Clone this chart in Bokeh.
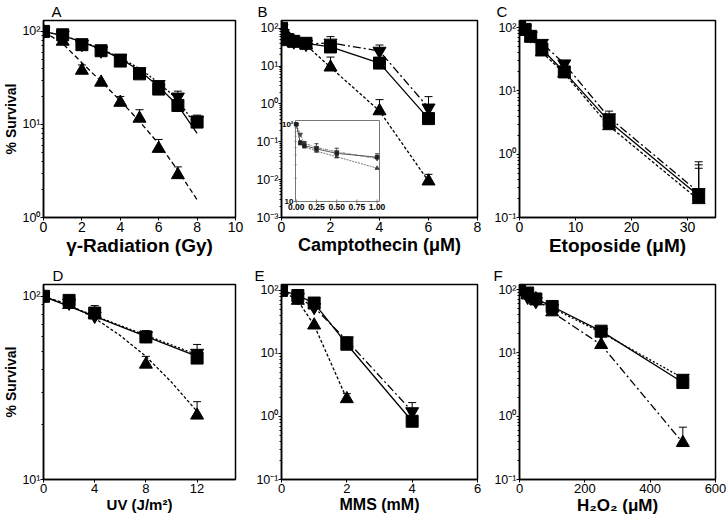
import json
import math
from bokeh.plotting import figure
from bokeh.models import (FixedTicker, GridBox, Range1d, CustomJSTickFormatter,
                          LinearScale, LogScale)
from bokeh.core.properties import value
from bokeh.embed import file_html
from bokeh.resources import INLINE

FONT = "Liberation Sans"
SUP = {"-3": "⁻³", "-2": "⁻²", "-1": "⁻¹", "0": "⁰", "1": "¹", "2": "²"}

# ---------------- Panel A : gamma radiation ----------------
a_x = [0, 1, 2, 3, 4, 5, 6, 7, 8]
a_sq = [100, 92, 72, 62, 48, 35, 24, 16, 10.6]
a_inv = [100, 92, 73, 62, 52, 37, 27, 19.8, 11.2]
a_tri_x = [0, 1, 2, 3, 4, 5, 6, 7]
a_tri = [100, 78, 38, 28.3, 17.2, 11.6, 5.5, 2.87]
a_fit_x = [0, 1, 2, 3, 4, 5, 6, 7, 8]
a_fit_sq = [100, 90, 77, 64, 51, 38, 25.5, 16, 8]
a_fit_inv = [100, 90, 78, 65, 52, 40, 28, 18.5, 9.2]
a_fit_tri = [100, 74, 46, 29, 18, 10.8, 6.2, 3.2, 1.55]
a_sq_ex, a_sq_et = [4], [56]
a_inv_ex, a_inv_et = [7, 8], [22.8, 12.6]
a_tri_ex, a_tri_et = [2, 4, 5, 6, 7], [43.6, 20, 14.4, 6.9, 3.5]

# ---------------- Panel B : camptothecin ----------------
b_x = [0, 0.05, 0.1, 0.25, 0.5, 1, 2, 4, 6]
b_sq = [100, 62, 55, 50, 45, 40, 32, 12, 0.41]
b_inv = [100, 74, 57, 50, 44, 38, 41, 25, 0.79]
b_tri = [100, 65, 58, 52, 45, 36, 9.3, 0.65, 0.0091]
b_sq_ex, b_sq_et = [2, 4], [42, 15.7]
b_inv_ex, b_inv_et = [2, 4, 6], [60, 36, 1.56]
b_tri_ex, b_tri_et = [2, 4, 6], [17.3, 1.3, 0.0138]
# inset of panel B
bi_x = [0, 0.05, 0.1, 0.25, 0.5, 1.0]
bi_sq = [100, 58, 53, 48, 42, 37.5]
bi_inv = [100, 74, 57, 50, 44, 36]
bi_tri = [100, 56, 51, 45, 38, 27]
bi_sq_ex, bi_sq_et = [0.1, 0.25, 0.5, 1.0], [60, 56, 49, 41.5]
bi_x_ticks = [0, 0.25, 0.5, 0.75, 1.0]
bi_x_labels = ["0.00", "0.25", "0.50", "0.75", "1.00"]
bi_y_ticks = [10, 100]
bi_y_labels = ["10", "10²"]
bi_y_minor = [20, 30, 40, 50, 60, 70, 80, 90]

# ---------------- Panel C : etoposide ----------------
c_x = [0, 1, 2, 4, 8, 16, 32]
c_sq = [105, 94, 73, 46, 20, 3.3, 0.22]
c_inv = [108, 96, 75, 57, 27, 3.8, 0.25]
c_tri = [105, 92, 70, 41, 19, 2.8, 0.19]
c_sq_ex, c_sq_et = [32], [0.6]
c_inv_ex, c_inv_et = [4, 8, 16, 32], [63, 30, 4.8, 0.76]
c_tri_ex, c_tri_et = [32], [0.68]

# ---------------- Panel D : UV ----------------
d_x = [0, 2, 4, 8, 12]
d_sq = [100, 95, 81, 60, 46]
d_inv = [100, 92, 78, 61, 49]
d_tri = [100, 90, 80, 42.5, 22.4]
d_fit_lin_x = [0, 12]
d_fit_sq = [100, 47]
d_fit_inv = [100, 48]
d_fit_tri_x = [0, 2, 4, 6, 8, 10, 12]
d_fit_tri = [100, 90, 76, 61, 47, 34, 23.5]
d_sq_ex, d_sq_et = [8], [64]
d_inv_ex, d_inv_et = [4, 8, 12], [89, 65, 54.6]
d_tri_ex, d_tri_et = [8, 12], [47, 26.6]

# ---------------- Panel E : MMS ----------------
e_x = [0, 0.5, 1, 2, 4]
e_sq = [100, 83, 63, 14, 0.84]
e_inv = [100, 78, 54, 16, 1.2]
e_tri_x = [0, 0.5, 1, 2]
e_tri = [100, 69, 28, 1.9]
e_sq_ex, e_sq_et = [2], [15.5]
e_inv_ex, e_inv_et = [2, 4], [18.2, 1.66]
e_tri_ex, e_tri_et = [2], [2.3]

# ---------------- Panel F : H2O2 ----------------
f_x = [0, 25, 50, 100, 250, 500]
f_sq = [100, 88, 71, 54, 22, 3.4]
f_inv = [100, 76, 65, 51, 21, 4.0]
f_tri = [100, 83, 71, 44, 13.4, 0.38]
f_sq_ex, f_sq_et = [100, 250], [58, 23.5]
f_inv_ex, f_inv_et = [500], [4.4]
f_tri_ex, f_tri_et = [500], [0.67]

DOT = "2 2"
DASH = "3 2"
DASHDOT = "8 3 2 3"

log_fmt = CustomJSTickFormatter(
    code="const s = %s; const e = Math.round(Math.log10(tick)); return '10' + s[String(e)];" % json.dumps(SUP))


def panel(width, height, mb, xr, yr, xticks, decades, xlabel, xlabel_size, xtick_size,
          letter, loff, ylabel=None):
    l, r, t, b = mb
    p = figure(width=width, height=height, x_range=Range1d(*xr), y_range=Range1d(*yr),
               y_axis_type="log", output_backend="svg", toolbar_location=None,
               min_border_left=l, min_border_right=r, min_border_top=t, min_border_bottom=b)
    p.xgrid.visible = False
    p.ygrid.visible = False
    p.outline_line_color = "black"
    p.outline_line_width = 1.5
    p.background_fill_color = "white"
    p.border_fill_color = "white"
    majors = [10.0 ** d for d in decades]
    minors = [m * 10.0 ** d for d in decades for m in range(2, 10)]
    p.yaxis.ticker = FixedTicker(ticks=majors, minor_ticks=minors)
    p.yaxis.formatter = log_fmt
    p.xaxis.ticker = FixedTicker(ticks=xticks)
    for ax in (p.xaxis, p.yaxis):
        ax.axis_line_color = "black"
        ax.axis_line_width = 1.5
        ax.major_tick_line_color = "black"
        ax.major_tick_in = 0
        ax.major_tick_out = 3
        ax.minor_tick_in = 0
        ax.minor_tick_out = 2
        ax.major_label_text_font = FONT
        ax.major_label_text_color = "black"
        ax.major_label_standoff = 1
    p.yaxis.major_label_text_font_size = "12.5px"
    p.yaxis.major_label_standoff = 0
    p.xaxis.major_label_text_font_size = xtick_size
    p.xaxis.minor_tick_line_color = None
    p.xaxis.axis_label = xlabel
    p.xaxis.axis_label_text_font = FONT
    p.xaxis.axis_label_text_font_style = "bold"
    p.xaxis.axis_label_text_font_size = xlabel_size
    p.xaxis.axis_label_text_color = "black"
    p.xaxis.axis_label_standoff = 0
    if ylabel:
        p.yaxis.axis_label = ylabel
        p.yaxis.axis_label_text_font = FONT
        p.yaxis.axis_label_text_font_style = "bold"
        p.yaxis.axis_label_text_font_size = "14px"
        p.yaxis.axis_label_text_color = "black"
        p.yaxis.axis_label_standoff = 0
    p.title.text = letter
    p.title.text_font = FONT
    p.title.text_font_size = "15px"
    p.title.text_font_style = "normal"
    p.title.text_color = "black"
    p.title.align = "left"
    p.title.offset = loff
    p.title.standoff = 1
    return p


def series(p, xs, ys, marker, size, dash="solid", line=True, ex=None, et=None, lw=1.3, cap=8):
    if line:
        p.line(xs, ys, line_color="black", line_width=lw, line_dash=dash)
    if ex:
        lookup = dict(zip(xs, ys))
        base = [lookup[v] for v in ex]
        p.segment(x0=ex, y0=base, x1=ex, y1=et, line_color="black", line_width=1)
        p.scatter(x=ex, y=et, marker="dash", size=cap, line_color="black", line_width=1)
    p.scatter(xs, ys, marker=marker, size=size, fill_color="black", line_color="black")


def fit(p, xs, ys, dash, lw=1.3):
    p.line(xs, ys, line_color="black", line_width=lw, line_dash=dash)


SQ, TRI, INV = 12, 13, 13
H1, H2 = 259, 263
COLS = [(250, 37, 15), (240, 31, 13), (238, 29, 13)]   # width, border left, border right
ROWS = [(H1, 20, 42), (H2, 25, 43)]                      # height, border top, border bottom


def mb(c, r):
    return (COLS[c][1], COLS[c][2], ROWS[r][1], ROWS[r][2])


# A
pA = panel(COLS[0][0], H1, mb(0, 0), (0, 10), (1, 131), [0, 2, 4, 6, 8, 10], [0, 1, 2],
           "γ-Radiation (Gy)", "19px", "14px", "A", 8, ylabel="% Survival")
fit(pA, a_fit_x, a_fit_sq, "solid")
fit(pA, a_fit_x, a_fit_inv, DOT)
fit(pA, a_fit_x, a_fit_tri, "5 3")
series(pA, a_tri_x, a_tri, "triangle", TRI, line=False, ex=a_tri_ex, et=a_tri_et)
series(pA, a_x, a_inv, "inverted_triangle", INV, line=False, ex=a_inv_ex, et=a_inv_et)
series(pA, a_x, a_sq, "square", SQ, line=False, ex=a_sq_ex, et=a_sq_et)

# B
pB = panel(COLS[1][0], H1, mb(1, 0), (0, 8), (0.001, 160), [0, 2, 4, 6, 8], [-3, -2, -1, 0, 1, 2],
           "Camptothecin (μM)", "18px", "14px", "B", -24)
series(pB, b_x, b_tri, "triangle", TRI, dash=DASH, ex=b_tri_ex, et=b_tri_et)
series(pB, b_x, b_inv, "inverted_triangle", INV, dash=DASHDOT, ex=b_inv_ex, et=b_inv_et)
series(pB, b_x, b_sq, "square", SQ, ex=b_sq_ex, et=b_sq_et)

# ---- inset drawn inside B through its own extra (linear / log) scales ----
fwB = COLS[1][0] - COLS[1][1] - COLS[1][2]
fhB = H1 - ROWS[0][1] - ROWS[0][2]
in_l, in_r, in_t, in_b = 14, 98, 100, 181       # inset box inside B's frame, px
ix0, ix1 = -0.01, 1.03
iy0, iy1 = 10, 112
kx = (in_r - in_l) / (ix1 - ix0)
ky = (in_b - in_t) / (math.log10(iy1) - math.log10(iy0))
pB.extra_x_ranges = {"ix": Range1d(ix0 - in_l / kx, ix0 + (fwB - in_l) / kx)}
pB.extra_y_ranges = {"iy": Range1d(10 ** (math.log10(iy0) - (fhB - in_b) / ky),
                                   10 ** (math.log10(iy1) + in_t / ky))}
pB.extra_x_scales = {"ix": LinearScale()}
pB.extra_y_scales = {"iy": LogScale()}
IK = dict(x_range_name="ix", y_range_name="iy")
pB.quad(left=[ix0], right=[ix1], bottom=[iy0], top=[iy1], fill_color="white",
        line_color="#777777", line_width=1, **IK)
pB.scatter(x=bi_x_ticks, y=[iy0] * len(bi_x_ticks), marker="dash", angle=math.pi / 2, size=4,
           line_color="#777777", **IK)
pB.scatter(x=[ix0] * len(bi_y_ticks), y=bi_y_ticks, marker="dash", size=4, line_color="#777777", **IK)
pB.scatter(x=[ix0] * len(bi_y_minor), y=bi_y_minor, marker="dash", size=2, line_color="#777777", **IK)
pB.text(x=bi_x_ticks, y=[iy0] * len(bi_x_ticks), text=bi_x_labels, y_offset=2,
        text_align="center", text_baseline="top", text_font=value(FONT),
        text_font_size="8.5px", text_font_style="bold", text_color="black", **IK)
pB.text(x=[ix0] * len(bi_y_ticks), y=bi_y_ticks, text=bi_y_labels, x_offset=-2,
        text_align="right", text_baseline="middle", text_font=value(FONT),
        text_font_size="8px", text_font_style="bold", text_color="black", **IK)
pB.line(bi_x, bi_tri, line_color="#555555", line_width=0.8, line_dash="2 1", **IK)
pB.line(bi_x, bi_inv, line_color="#555555", line_width=0.8, line_dash="3 1 1 1", **IK)
pB.line(bi_x, bi_sq, line_color="#333333", line_width=0.8, **IK)
lk = dict(zip(bi_x, bi_sq))
pB.segment(x0=bi_sq_ex, y0=[lk[v] for v in bi_sq_ex], x1=bi_sq_ex, y1=bi_sq_et,
           line_color="#333333", line_width=0.8, **IK)
pB.scatter(x=bi_sq_ex, y=bi_sq_et, marker="dash", size=4, line_color="#333333", **IK)
pB.scatter(bi_x, bi_tri, marker="triangle", size=4, color="#444444", **IK)
pB.scatter(bi_x, bi_inv, marker="inverted_triangle", size=4, color="#444444", **IK)
pB.scatter(bi_x, bi_sq, marker="square", size=3.5, color="#222222", **IK)

# C
pC = panel(COLS[2][0], H1, mb(2, 0), (0, 35), (0.1, 130), [0, 10, 20, 30], [-1, 0, 1, 2],
           "Etoposide (μM)", "19px", "14px", "C", -23)
series(pC, c_x, c_tri, "triangle", TRI, dash=DASH, ex=c_tri_ex, et=c_tri_et)
series(pC, c_x, c_inv, "inverted_triangle", INV, dash=DASHDOT, ex=c_inv_ex, et=c_inv_et)
series(pC, c_x, c_sq, "square", SQ, ex=c_sq_ex, et=c_sq_et)

# D
pD = panel(COLS[0][0], H2, mb(0, 1), (0, 15), (10, 116), [0, 4, 8, 12], [1, 2],
           "UV (J/m²)", "15px", "13px", "D", 9, ylabel="% Survival")
fit(pD, d_fit_tri_x, d_fit_tri, DASH)
fit(pD, d_fit_lin_x, d_fit_inv, DOT)
fit(pD, d_fit_lin_x, d_fit_sq, "solid")
series(pD, d_x, d_tri, "triangle", TRI, line=False, ex=d_tri_ex, et=d_tri_et)
series(pD, d_x, d_inv, "inverted_triangle", INV, line=False, ex=d_inv_ex, et=d_inv_et)
series(pD, d_x, d_sq, "square", SQ, line=False, ex=d_sq_ex, et=d_sq_et)

# E
pE = panel(COLS[1][0], H2, mb(1, 1), (0, 6), (0.1, 124), [0, 2, 4, 6], [-1, 0, 1, 2],
           "MMS (mM)", "16px", "13px", "E", -27)
series(pE, e_tri_x, e_tri, "triangle", TRI, dash=DASH, ex=e_tri_ex, et=e_tri_et)
series(pE, e_x, e_inv, "inverted_triangle", INV, dash=DASHDOT, ex=e_inv_ex, et=e_inv_et)
series(pE, e_x, e_sq, "square", SQ, ex=e_sq_ex, et=e_sq_et)

# F
pF = panel(COLS[2][0], H2, mb(2, 1), (0, 600), (0.1, 120), [0, 200, 400, 600], [-1, 0, 1, 2],
           "H₂O₂ (μM)", "17px", "13px", "F", -26)
series(pF, f_x, f_tri, "triangle", TRI, dash=DASHDOT, ex=f_tri_ex, et=f_tri_et)
series(pF, f_x, f_inv, "inverted_triangle", INV, dash=DOT, ex=f_inv_ex, et=f_inv_et)
series(pF, f_x, f_sq, "square", SQ, ex=f_sq_ex, et=f_sq_et)

grid = GridBox(children=[(pA, 0, 0), (pB, 0, 1), (pC, 0, 2),
                         (pD, 1, 0), (pE, 1, 1), (pF, 1, 2)], spacing=0)

open("out.html", "w").write(file_html(grid, INLINE))
